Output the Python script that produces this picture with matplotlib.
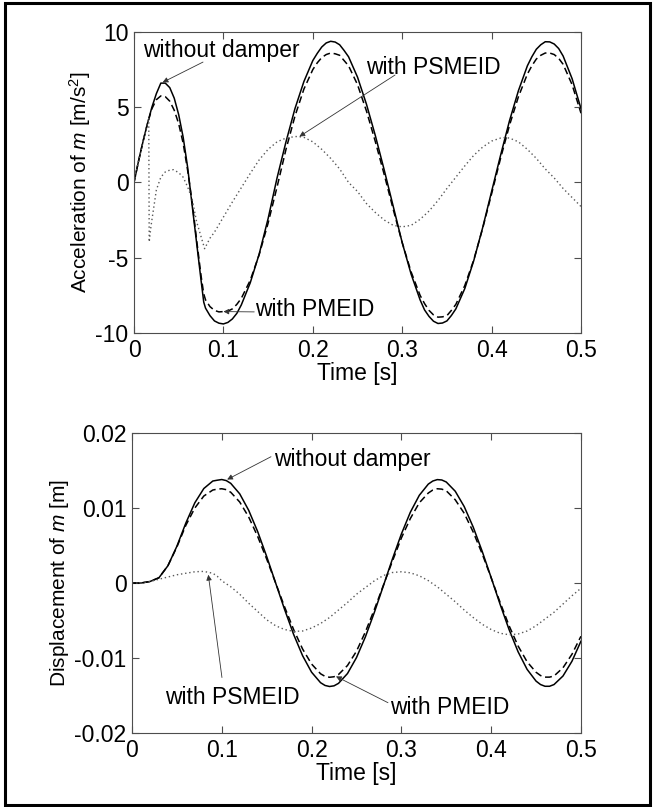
#!/usr/bin/python3

import numpy as np
import matplotlib
matplotlib.use("Agg")
import matplotlib.pyplot as plt
from matplotlib.patches import Rectangle

# acceleration of m [m/s^2]
t_acc = [0, 0.005, 0.01, 0.015, 0.02, 0.025, 0.03, 0.035, 0.04, 0.045, 0.05,
         0.055, 0.06, 0.065, 0.07, 0.075, 0.078, 0.08, 0.085, 0.09, 0.095, 0.1,
         0.105, 0.11, 0.115, 0.12,
         0.13, 0.14, 0.15, 0.16, 0.17, 0.18, 0.19, 0.2,
         0.205, 0.21, 0.215, 0.22, 0.225, 0.23, 0.235, 0.24,
         0.25, 0.26, 0.27, 0.28, 0.29, 0.3, 0.31, 0.32,
         0.325, 0.33, 0.335, 0.34, 0.345, 0.35, 0.355, 0.36,
         0.37, 0.38, 0.39, 0.4, 0.41, 0.42, 0.43, 0.44,
         0.445, 0.45, 0.455, 0.46, 0.465, 0.47, 0.475, 0.48,
         0.49, 0.5]

acc_nodamp = [0, 1.4, 2.7, 3.9, 5.0, 5.9, 6.6, 6.6, 6.3, 5.6, 4.5,
              3.0, 1.0, -1.5, -4.0, -6.5, -7.95, -8.35, -8.85, -9.2, -9.35, -9.4,
              -9.3, -9.07, -8.7, -8.14,
              -6.67, -4.76, -2.4, 0.3, 2.7, 4.9, 6.7, 8.1,
              8.58, 9.0, 9.27, 9.38, 9.33, 9.15, 8.77, 8.35,
              7.0, 5.2, 3.1, 0.8, -1.6, -4.0, -6.1, -7.8,
              -8.47, -8.9, -9.22, -9.37, -9.34, -9.2, -8.84, -8.4,
              -7.05, -5.2, -3.0, -0.6, 1.8, 4.1, 6.1, 7.75,
              8.35, 8.85, 9.15, 9.35, 9.34, 9.2, 8.9, 8.4,
              6.9, 4.9]

acc_pmeid = [0, 1.4, 2.7, 3.9, 4.9, 5.5, 5.75, 5.7, 5.4, 4.8, 3.9,
             2.6, 0.8, -1.3, -3.8, -6.2, -7.4, -7.8, -8.25, -8.5, -8.6, -8.58,
             -8.55, -8.4, -8.1, -7.7,
             -6.5, -4.8, -2.7, -0.3, 2.2, 4.4, 6.2, 7.5,
             7.95, 8.3, 8.5, 8.6, 8.55, 8.45, 8.1, 7.75,
             6.5, 4.75, 2.7, 0.5, -1.8, -4.0, -5.95, -7.5,
             -8.05, -8.5, -8.8, -8.95, -8.93, -8.85, -8.5, -8.1,
             -6.85, -5.15, -3.05, -0.75, 1.6, 3.8, 5.7, 7.2,
             7.75, 8.2, 8.45, 8.6, 8.6, 8.5, 8.25, 7.85,
             6.5, 4.6]

t_acc_psm = [0, 0.005, 0.01, 0.015, 0.0165, 0.017, 0.019, 0.022, 0.025, 0.03,
             0.035, 0.04, 0.044, 0.05, 0.055, 0.06, 0.065, 0.07, 0.075, 0.079,
             0.085, 0.09, 0.1, 0.11, 0.12, 0.13, 0.14, 0.15, 0.16, 0.17,
             0.18, 0.184, 0.19, 0.2, 0.21, 0.22, 0.23, 0.24, 0.25, 0.26,
             0.27, 0.28, 0.29, 0.3, 0.31, 0.32, 0.33, 0.34, 0.35, 0.36,
             0.37, 0.38, 0.39, 0.4, 0.41, 0.415, 0.42, 0.43, 0.44, 0.45,
             0.46, 0.47, 0.48, 0.49, 0.5]

acc_psmeid = [0, 1.4, 2.7, 3.9, 4.3, -3.95, -2.9, -1.7, -0.5, 0.35,
              0.7, 0.82, 0.85, 0.65, 0.35, -0.3, -1.1, -2.6, -3.6, -4.4,
              -3.7, -3.3, -2.3, -1.3, -0.35, 0.6, 1.5, 2.2, 2.7, 2.95,
              3.05, 3.05, 3.0, 2.7, 2.2, 1.6, 0.9, 0.0, -0.6, -1.4,
              -2.0, -2.5, -2.85, -2.95, -2.85, -2.45, -1.9, -1.2, -0.4, 0.35,
              1.1, 1.8, 2.35, 2.75, 2.95, 2.98, 2.95, 2.7, 2.2, 1.6,
              0.9, 0.3, -0.4, -1.0, -1.6]

# displacement of m [m]
t_dis = [0, 0.01, 0.02, 0.03, 0.04, 0.05, 0.06, 0.07, 0.08, 0.09,
         0.095, 0.1, 0.105,
         0.11, 0.12, 0.13, 0.14, 0.15, 0.16, 0.17, 0.18, 0.19, 0.2, 0.21,
         0.215, 0.22, 0.225,
         0.23, 0.24, 0.25, 0.26, 0.27, 0.28, 0.29, 0.3, 0.31, 0.32, 0.33,
         0.335, 0.34, 0.345,
         0.35, 0.36, 0.37, 0.38, 0.39, 0.4, 0.41, 0.42, 0.43, 0.44, 0.45,
         0.455, 0.46, 0.465,
         0.47, 0.48, 0.49, 0.5]

dis_nodamp = [0, 0.0, 0.0002, 0.0007, 0.0023, 0.0049, 0.008, 0.0107, 0.0126, 0.0136,
              0.01371, 0.0138, 0.01366,
              0.01329, 0.01189, 0.00969, 0.00685, 0.00354, 0.0, -0.00354, -0.00685, -0.00969, -0.01189, -0.01329,
              -0.01366, -0.0138, -0.01371,
              -0.01338, -0.01207, -0.00995, -0.00716, -0.00389, -0.00036, 0.00319, 0.00653, 0.00944, 0.0117, 0.01319,
              0.0136, 0.01379, 0.01374,
              0.01347, 0.01224, 0.01019, 0.00746, 0.00423, 0.00072, -0.00285, -0.00622, -0.00917, -0.01151, -0.01308,
              -0.01354, -0.01377, -0.01377,
              -0.01354, -0.0124, -0.01043, -0.00776]

dis_pmeid = [0, 0.0, 0.0002, 0.0007, 0.0023, 0.0048, 0.0077, 0.01, 0.0116, 0.0124,
             0.01252, 0.01257, 0.01245,
             0.0121, 0.0108, 0.0088, 0.0062, 0.0032, 0.0, -0.0032, -0.0062, -0.0088, -0.0108, -0.0121,
             -0.01245, -0.01257, -0.0125,
             -0.0122, -0.011, -0.0091, -0.0065, -0.0035, -0.0003, 0.0029, 0.006, 0.0086, 0.0107, 0.012,
             0.0124, 0.01257, 0.01252,
             0.0123, 0.0111, 0.0093, 0.0068, 0.0039, 0.0007, -0.0026, -0.0057, -0.0084, -0.0105, -0.0119,
             -0.01234, -0.01255, -0.01255,
             -0.0124, -0.0113, -0.0095, -0.0071]

dis_psmeid = [0, 0.0, 0.0002, 0.0005, 0.0008, 0.0011, 0.0013, 0.0015, 0.00155, 0.0013,
              0.0009, 0.0003, -0.0001,
              -0.0005, -0.0015, -0.0027, -0.0038, -0.0049, -0.0057, -0.0062, -0.00645, -0.0064, -0.006, -0.0054,
              -0.005, -0.0046, -0.0041,
              -0.0036, -0.0026, -0.0015, -0.0006, 0.0003, 0.001, 0.0014, 0.0015, 0.00136, 0.00096, 0.00032,
              -0.0001, -0.0005, -0.001,
              -0.0015, -0.0025, -0.0036, -0.0046, -0.0055, -0.0062, -0.0067, -0.0069, -0.0068, -0.0064, -0.0057,
              -0.00525, -0.0048, -0.00435,
              -0.0039, -0.0028, -0.0017, -0.0007]

x_ticks = [0, 0.1, 0.2, 0.3, 0.4, 0.5]
x_ticklabels = ["0", "0.1", "0.2", "0.3", "0.4", "0.5"]
acc_ticks = [-10, -5, 0, 5, 10]
acc_ticklabels = ["-10", "-5", "0", "5", "10"]
dis_ticks = [-0.02, -0.01, 0, 0.01, 0.02]
dis_ticklabels = ["-0.02", "-0.01", "0", "0.01", "0.02"]

fsize = 16.5
ylabel_size = 15

#_____________________________________________________________________________
def main():

    plt.rcParams["font.family"] = "Liberation Sans"
    plt.rcParams["mathtext.fontset"] = "custom"
    plt.rcParams["mathtext.rm"] = "Liberation Sans"
    plt.rcParams["mathtext.it"] = "Liberation Sans:italic"
    plt.rcParams["axes.unicode_minus"] = False
    plt.rcParams["font.size"] = fsize

    fig = plt.figure(figsize=(6.54, 8.07), dpi=100)

    # frame round the whole figure
    fig.add_artist(Rectangle((5/654, 2/807), 645/654, 802/807, transform=fig.transFigure,
                             fill=False, ec="black", lw=2.2))

    ax1 = fig.add_axes([0.2049, 0.5874, 0.6835, 0.3730])
    plot_curves(ax1, t_acc, acc_nodamp, acc_pmeid, t_acc_psm, acc_psmeid)
    set_axes(ax1, acc_ticks, acc_ticklabels, (-10, 10))
    ax1.set_ylabel("Acceleration of $m$ [m/s$^2$]", fontsize=ylabel_size, labelpad=2)

    arrow(ax1, "without damper", (0.010, 8.8), (0.0772, 8.0), (0.032, 6.65))
    arrow(ax1, "with PSMEID", (0.2595, 7.67), (0.292, 7.14), (0.185, 3.05))
    arrow(ax1, "with PMEID", (0.1353, -8.47), (0.1345, -8.6), (0.1, -8.58))

    ax2 = fig.add_axes([0.2018, 0.0917, 0.6865, 0.3717])
    plot_curves(ax2, t_dis, dis_nodamp, dis_pmeid, t_dis, dis_psmeid)
    set_axes(ax2, dis_ticks, dis_ticklabels, (-0.02, 0.02))
    ax2.set_ylabel("Displacement of $m$ [m]", fontsize=ylabel_size, labelpad=2)

    arrow(ax2, "without damper", (0.158, 0.01644), (0.1548, 0.01684), (0.106, 0.0138))
    arrow(ax2, "with PSMEID", (0.0367, -0.0153), (0.1002, -0.0126), (0.085, 0.0011))
    arrow(ax2, "with PMEID", (0.2873, -0.01663), (0.2851, -0.01596), (0.2272, -0.01245))

    fig.savefig("out.png", dpi=100)
    plt.close()

#main

#_____________________________________________________________________________
def plot_curves(ax, t, y_nodamp, y_pmeid, t_psm, y_psmeid):

    ax.plot(t, y_nodamp, color="black", lw=1.1, ls="-")
    ax.plot(t, y_pmeid, color="black", lw=1.1, ls=(0, (4.5, 2.5)))
    ax.plot(t_psm, y_psmeid, color="0.35", lw=1.0, ls=(0, (1, 2)))

#plot_curves

#_____________________________________________________________________________
def set_axes(ax, yticks, ylabels, ylim):

    ax.set_xlim(0, 0.5)
    ax.set_ylim(*ylim)
    ax.set_xticks(x_ticks)
    ax.set_xticklabels(x_ticklabels)
    ax.set_yticks(yticks)
    ax.set_yticklabels(ylabels)
    ax.set_xlabel("Time [s]", labelpad=0)

    for sp in ax.spines.values():
        sp.set_color("0.3")
        sp.set_linewidth(0.8)
    ax.tick_params(direction="in", top=True, right=True, length=5, width=0.8,
                   color="0.3", labelcolor="black", labelsize=fsize, pad=4)

#set_axes

#_____________________________________________________________________________
def arrow(ax, txt, xy_txt, xy_start, xy_tip):

    ax.text(xy_txt[0], xy_txt[1], txt, ha="left", va="center", fontsize=fsize)
    ax.annotate("", xy=xy_tip, xytext=xy_start,
                arrowprops=dict(arrowstyle="-|>", color="0.2", lw=0.6,
                                mutation_scale=8, shrinkA=0, shrinkB=0))

#arrow

#_____________________________________________________________________________
if __name__ == "__main__":

    main()
